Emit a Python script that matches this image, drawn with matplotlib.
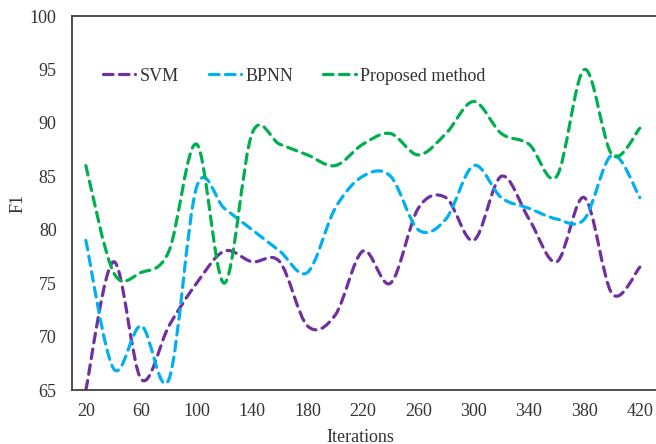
import numpy as np
import matplotlib
matplotlib.use("Agg")
import matplotlib.pyplot as plt
from matplotlib.path import Path
from matplotlib.patches import PathPatch
from matplotlib.lines import Line2D

iterations = [20, 40, 60, 80, 100, 120, 140, 160, 180, 200, 220, 240, 260, 280, 300, 320, 340, 360, 380, 400, 420]
svm = [65, 77, 66, 71, 75, 78, 77, 77, 71, 72, 78, 75, 82, 83, 79, 85, 81, 77, 83, 74, 76.5]
bpnn = [79, 67, 71, 66, 84, 82, 80, 78, 76, 82, 85, 85, 80, 81, 86, 83, 82, 81, 81, 87, 83]
proposed = [86, 76, 76, 78, 88, 75, 89, 88, 87, 86, 88, 89, 87, 89, 92, 89, 88, 85, 95, 87, 89.5]
series_names = ["SVM", "BPNN", "Proposed method"]
colors = ["#7030A0", "#00B0F0", "#00B050"]
yticks = [65, 70, 75, 80, 85, 90, 95, 100]
xticks = [20, 60, 100, 140, 180, 220, 260, 300, 340, 380, 420]

plt.rcParams['font.family'] = ['Liberation Serif', 'DejaVu Serif']
FS = 13

fig = plt.figure(figsize=(6.56, 4.44), dpi=100)
W, H = 656, 444
ax = fig.add_axes([72 / W, (H - 390) / H, (656 - 72) / W, (390 - 16) / H])
ax.set_xlim(10, 10 + 584 / 1.385)
ax.set_ylim(65, 100)


def smooth_path(xs, ys):
    pts = np.column_stack([xs, ys]).astype(float)
    n = len(pts)
    verts = [pts[0]]
    codes = [Path.MOVETO]
    for i in range(n - 1):
        p0 = pts[i - 1] if i > 0 else pts[i]
        p1 = pts[i]
        p2 = pts[i + 1]
        p3 = pts[i + 2] if i + 2 < n else pts[i + 1]
        c1 = p1 + (p2 - p0) / 6.0
        c2 = p2 - (p3 - p1) / 6.0
        verts += [c1, c2, p2]
        codes += [Path.CURVE4] * 3
    return Path(verts, codes)


dash = (0, (3.0, 2.0))
lw = 2.3
handles = []
for ys, c, name in zip([svm, bpnn, proposed], colors, series_names):
    patch = PathPatch(smooth_path(iterations, ys), facecolor='none', edgecolor=c,
                      lw=lw, linestyle=dash, capstyle='round', joinstyle='round',
                      clip_on=True)
    ax.add_patch(patch)
    handles.append(Line2D([], [], color=c, lw=lw, linestyle=dash,
                          dash_capstyle='round', label=name))

ax.set_xticks(xticks)
ax.set_yticks(yticks)
ax.tick_params(axis='x', length=0, labelsize=FS, colors='#333333', pad=9)
ax.tick_params(axis='y', length=0, labelsize=FS, colors='#333333', pad=11)
for s in ['top', 'left', 'bottom']:
    ax.spines[s].set_color('#404040')
    ax.spines[s].set_linewidth(1.3)
ax.spines['right'].set_visible(False)

ax.set_xlabel("Iterations", fontsize=FS, color='#333333', va='center')
ax.xaxis.set_label_coords((360 - 72) / 584, (390 - 437) / 374)
ax.set_ylabel("F1", fontsize=FS, color='#333333', va='center')
ax.yaxis.set_label_coords((18 - 72) / 584, 0.5)

leg = ax.legend(handles=handles, loc='upper left', bbox_to_anchor=(0.025, 0.905),
                ncol=3, frameon=False, fontsize=FS, handlelength=1.8,
                handletextpad=0.25, columnspacing=1.65)
for t in leg.get_texts():
    t.set_color('#333333')

fig.savefig("out.png", dpi=100)
